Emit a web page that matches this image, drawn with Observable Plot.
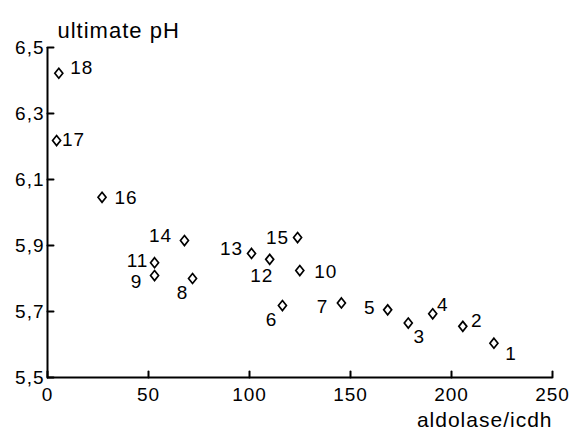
<!DOCTYPE html>
<html><head><meta charset="utf-8">
<script src="https://cdn.jsdelivr.net/npm/d3@7"></script>
<script src="https://cdn.jsdelivr.net/npm/@observablehq/plot@0.6"></script>
<style>
body{margin:0;background:#fff} svg{display:block}
g[aria-label="y-title"] text{letter-spacing:1.3px}
g[aria-label="x-title"] text{letter-spacing:2.5px}
</style>
</head><body><div id="chart"></div>
<script>
// Data
const ids = [1, 2, 3, 4, 5, 6, 7, 8, 9, 10, 11, 12, 13, 14, 15, 16, 17, 18];
const aldolaseIcdh = [221, 205.6, 178.6, 190.7, 168.4, 116.3, 145.5, 71.8, 53, 124.9, 53, 110, 101, 67.8, 123.8, 27, 4.5, 5.6];
const ultimatePH = [5.604, 5.655, 5.665, 5.693, 5.705, 5.718, 5.726, 5.80, 5.809, 5.824, 5.848, 5.858, 5.876, 5.915, 5.924, 6.046, 6.218, 6.422];
const xTicks = [0, 50, 100, 150, 200, 250];
const yTicks = [5.5, 5.7, 5.9, 6.1, 6.3, 6.5];
const xTitle = "aldolase/icdh";
const yTitle = "ultimate pH";

// Label placement (pixel offsets of each number from its point) — layout only
const labelOffsets = [
  [17, 11], [14, -5], [11, 14], [10, -9], [-18, -2], [-11, 14], [-19, 4], [-10, 14], [-18, 6],
  [26, 1], [-17, -2], [-8, 17], [-20, -5], [-24, -5], [-20, 0], [24, 1], [17, -1], [23, -5]
];

const data = ids.map((id, i) => ({id, x: aldolaseIcdh[i], y: ultimatePH[i]}));

const tallDiamond = {
  draw(ctx, size) {
    const r = Math.sqrt(size / Math.PI);
    const w = r * 0.8;
    ctx.moveTo(0, -r); ctx.lineTo(w, 0); ctx.lineTo(0, r); ctx.lineTo(-w, 0); ctx.closePath();
  }
};
// plain line shape for inward tick vectors
const lineShape = {draw(ctx, l) { ctx.moveTo(0, 0); ctx.lineTo(0, -l); }};

const fmt = d => String(d).replace(".", ",");

const chart = Plot.plot({
  width: 570,
  height: 434,
  marginLeft: 47,
  marginRight: 18,
  marginTop: 47,
  marginBottom: 57,
  style: {fontFamily: "'Liberation Sans', Arial, sans-serif", fontSize: "19px", letterSpacing: "1px", color: "black", background: "white"},
  x: {domain: [0, 250], axis: null},
  y: {domain: [5.5, 6.5], axis: null},
  marks: [
    Plot.axisY({ticks: yTicks, tickFormat: fmt, tickSize: 0, tickPadding: 3, label: null}),
    Plot.axisX({ticks: xTicks, tickFormat: d => String(d), tickSize: 0, tickPadding: 10, label: null}),
    Plot.ruleX([0], {y1: 5.5, y2: 6.5, strokeWidth: 2}),
    Plot.ruleY([5.5], {x1: 0, x2: 250, strokeWidth: 2}),
    Plot.vector(yTicks, {x: 0, y: d => d, length: 6, rotate: 90, anchor: "start", shape: lineShape, stroke: "black", strokeWidth: 2}),
    Plot.vector(xTicks, {x: d => d, y: 5.5, length: 6, rotate: 0, anchor: "start", shape: lineShape, stroke: "black", strokeWidth: 2}),
    Plot.dot(data, {x: "x", y: "y", r: 5, symbol: tallDiamond, stroke: "black", strokeWidth: 1.7, fill: "white"}),
    ...data.map((d, i) => Plot.text([d], {x: "x", y: "y", text: d => String(d.id), dx: labelOffsets[i][0], dy: labelOffsets[i][1], fill: "black"})),
    Plot.text([yTitle], {frameAnchor: "top-left", lineAnchor: "middle", text: d => d, textAnchor: "start", dx: 10, dy: -17, fontSize: 22, fill: "black", ariaLabel: "y-title"}),
    Plot.text([xTitle], {frameAnchor: "bottom-right", lineAnchor: "middle", text: d => d, textAnchor: "end", dx: 0, dy: 43, fontSize: 21, fill: "black", ariaLabel: "x-title"})
  ]
});
document.getElementById("chart").appendChild(chart);
</script>
</body></html>
